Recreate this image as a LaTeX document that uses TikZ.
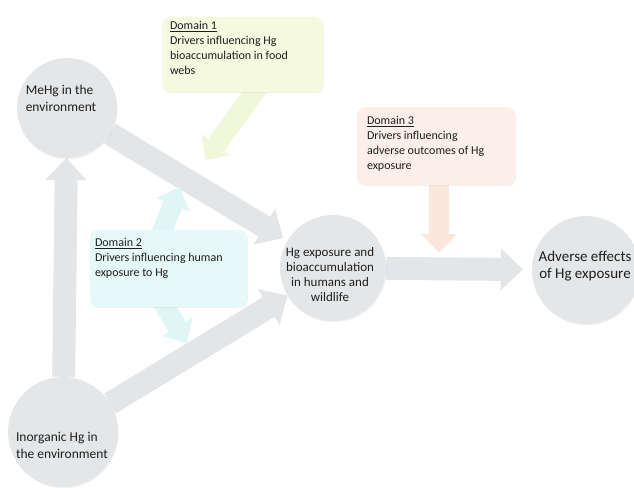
\documentclass[tikz,border=0pt]{standalone}
\usepackage{fontspec}
\setmainfont{Carlito}
\usetikzlibrary{positioning,arrows.meta,backgrounds,shadows}

\definecolor{blobgrey}{HTML}{E4E6E8}
\definecolor{flowgrey}{HTML}{E3E5E7}
\definecolor{domonefill}{HTML}{F4F9DF}
\definecolor{domonearrow}{HTML}{F1F7D9}
\definecolor{domtwofill}{HTML}{E7F8F8}
\definecolor{domtwoarrow}{HTML}{E0F6F6}
\definecolor{domthreefill}{HTML}{FCEFE7}
\definecolor{domthreearrow}{HTML}{FBE8DD}
\definecolor{inktext}{HTML}{1E1E1E}

\tikzset{
  blob/.style={circle, fill=blobgrey, inner sep=0pt,
    drop shadow={opacity=0.12, shadow xshift=0.6pt, shadow yshift=-1.2pt}},
  blobtext/.style={text=inktext, font=\fontsize{13.5}{17}\selectfont, inner sep=0pt},
  dombox/.style={rounded corners=8pt, inner sep=0pt,
    drop shadow={opacity=0.1, shadow xshift=0.8pt, shadow yshift=-1.2pt}},
  domtext/.style={text=inktext, font=\fontsize{12}{15}\selectfont, align=left,
    anchor=north west, inner sep=0pt},
  flow/.style={draw=flowgrey, line width=23pt,
    -{Triangle[length=22pt, width=42pt, line width=0pt]}},
  push/.style={line width=20pt, shorten <=-14pt,
    -{Triangle[length=19pt, width=36pt, line width=0pt]}},
}

\begin{document}
\begin{tikzpicture}[x=1pt, y=-1pt]
\useasboundingbox (0,0) rectangle (634,487);

% circles
\node[blob, minimum size=100pt] (mehg) at (67,108) {};
\node[blob, minimum size=110pt] (inorg) at (63,432) {};
\node[blob, minimum size=106pt] (expo) at (333,268) {};
\node[blob, minimum size=108pt] (adv) at (586,270) {};

\node[blobtext, align=left] (mehgtxt) at ([shift={(-6,-10)}]mehg.center) {MeHg in the\\environment};
\node[blobtext, align=left] (inorgtxt) at ([shift={(-1,13)}]inorg.center) {Inorganic Hg in\\the environment};
\node[blobtext, align=center, font=\fontsize{13}{15}\selectfont] (expotxt) at ([shift={(-3,7)}]expo.center) {Hg exposure and\\bioaccumulation\\in humans and\\wildlife};
\node[blobtext, align=center, font=\fontsize{15}{17}\selectfont] (advtxt) at ([shift={(-1,-4)}]adv.center) {Adverse effects\\of Hg exposure};

% domain boxes
\node[dombox, fill=domonefill, minimum width=161pt, minimum height=75pt] (dom1) at (242.5,54.5) {};
\node[dombox, fill=domtwofill, minimum width=157pt, minimum height=77pt] (dom2) at (168.5,268.5) {};
\node[dombox, fill=domthreefill, minimum width=158pt, minimum height=78pt] (dom3) at (436,146) {};

\node[domtext] (dom1txt) at ([shift={(8,4)}]dom1.north west) {\underline{Domain 1}\\Drivers influencing Hg\\bioaccumulation in food\\webs};
\node[domtext] (dom2txt) at ([shift={(5,8)}]dom2.north west) {\underline{Domain 2}\\Drivers influencing human\\exposure to Hg};
\node[domtext] (dom3txt) at ([shift={(10,9)}]dom3.north west) {\underline{Domain 3}\\Drivers influencing\\adverse outcomes of Hg\\exposure};

\coordinate (d1tip) at (205,160);
\coordinate (d2up) at (180,187);
\coordinate (d2down) at (187,343);
\coordinate (d3tip) at (439,253);

\begin{scope}[on background layer]
  \draw[flow] (inorg) -- (mehg);
  \draw[flow, shorten >=5pt] (mehg) -- (expo);
  \draw[flow] (inorg) -- (expo);
  \draw[flow, shorten >=9pt] (expo) -- (adv);
  \draw[push, domonearrow] ([xshift=12pt]dom1.south) -- (d1tip);
  \draw[push, domtwoarrow] ([xshift=-6pt]dom2.north) -- (d2up);
  \draw[push, domtwoarrow] ([xshift=-3pt]dom2.south) -- (d2down);
  \draw[push, domthreearrow] ([xshift=3pt]dom3.south) -- (d3tip);
\end{scope}
\end{tikzpicture}
\end{document}
